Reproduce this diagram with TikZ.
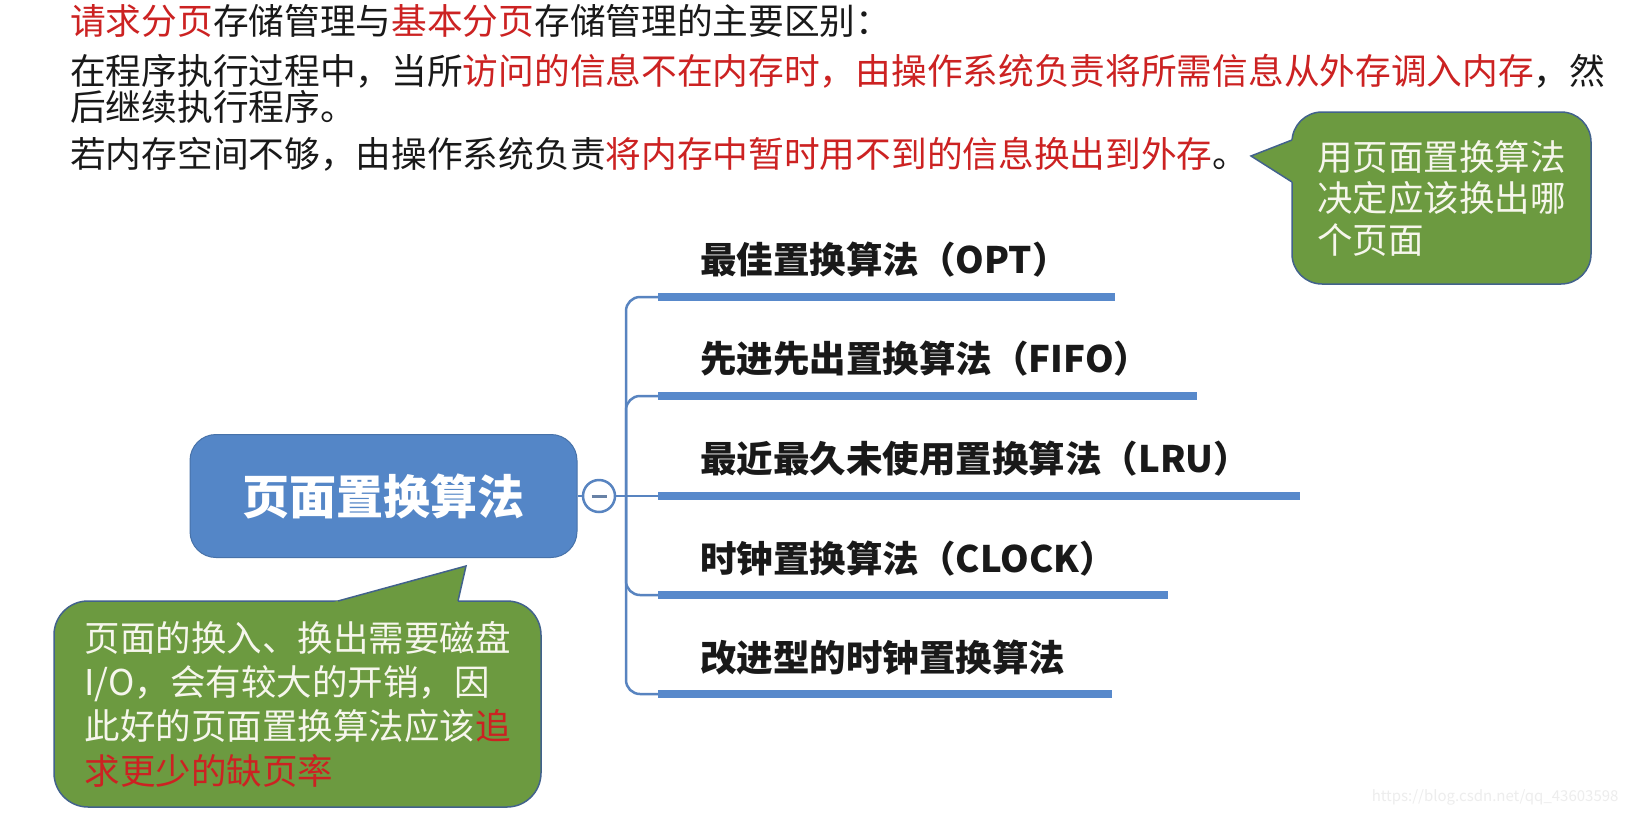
\documentclass[tikz,border=0pt]{standalone}
\usepackage{fontspec}
\setmainfont{Noto Sans CJK SC}
\definecolor{redtext}{RGB}{204,34,34}
\definecolor{nodeblue}{RGB}{84,134,199}
\definecolor{barblue}{RGB}{88,137,203}
\definecolor{twigblue}{RGB}{88,132,192}
\definecolor{bubblegreen}{RGB}{108,154,64}
\definecolor{bubbleline}{RGB}{66,98,140}
\definecolor{bubbletext}{RGB}{246,246,236}

\tikzset{
  body/.style={anchor=west, inner sep=0pt, text=black!90, font=\fontsize{35.7}{42}\selectfont},
  hint/.style={draw=bubbleline, fill=bubblegreen, line width=1.5pt, text=bubbletext, align=left},
  root/.style={fill=nodeblue, draw=nodeblue!85!black, line width=1pt, rounded corners=26pt, minimum width=387pt, minimum height=123pt, text=white, font=\fontsize{47}{56}\selectfont\bfseries},
  fold/.style={circle, draw=twigblue, fill=white, line width=2.5pt, minimum size=32pt, inner sep=0pt, text=twigblue!60!gray},
  leaf/.style={anchor=west, inner sep=0pt, text=black!90, font=\fontsize{36.5}{44}\selectfont\bfseries},
  twig/.style={draw=twigblue, line width=2.5pt, rounded corners=14pt},
  bar/.style={draw=barblue, line width=8pt}
}

\begin{document}
\begin{tikzpicture}[x=1pt,y=-1pt]
\fill[white] (0,0) rectangle (1630,814);
\useasboundingbox (0,0) rectangle (1630,814);

\node[body] (t1) at (70,21) {\textcolor{redtext}{请求分页}存储管理与\textcolor{redtext}{基本分页}存储管理的主要区别：};
\node[body] (t2) at (70,71) {在程序执行过程中，当所\textcolor{redtext}{访问的信息不在内存时，由操作系统负责将所需信息从外存调入内存}，然};
\node[body] (t3) at (70,107) {后继续执行程序。};
\node[body] (t4) at (70,154) {若内存空间不够，由操作系统负责\textcolor{redtext}{将内存中暂时用不到的信息换出到外存}。};

\node[hint, rounded corners=30pt, minimum width=299pt, minimum height=172pt, text width=249pt, font=\fontsize{35.5}{41.5}\selectfont] (hintR) at (1441.5,198) {用页面置换算法\\决定应该换出哪\\个页面};
\fill[bubblegreen] (1251,156) -- (1294,139) -- (1294,183) -- cycle;
\draw[bubbleline, line width=1.5pt] (1292,140) -- (1251,156) -- (1292,182);

\node[root] (root) at (383.5,496) {页面置换算法};
\node[fold] (fold) at (599,496) {\rule{15pt}{3pt}};
\coordinate (trunk) at (626,496);

\coordinate (b1) at (658,297);
\coordinate (e1) at (1115,297);
\coordinate (b2) at (658,396);
\coordinate (e2) at (1197,396);
\coordinate (b3) at (658,496);
\coordinate (e3) at (1300,496);
\coordinate (b4) at (658,595);
\coordinate (e4) at (1168,595);
\coordinate (b5) at (658,694);
\coordinate (e5) at (1112,694);

\draw[twig] (root) -- (fold);
\draw[twig] (fold) -- (b3);
\draw[twig] (trunk) |- (b1);
\draw[twig] (trunk) |- (b2);
\draw[twig] (trunk) |- (b4);
\draw[twig] (trunk) |- (b5);

\draw[bar] (b1) -- (e1);
\draw[bar] (b2) -- (e2);
\draw[bar] (b3) -- (e3);
\draw[bar] (b4) -- (e4);
\draw[bar] (b5) -- (e5);

\node[leaf] (opt) at (700,260) {最佳置换算法（OPT）};
\node[leaf] (fifo) at (700,359) {先进先出置换算法（FIFO）};
\node[leaf] (lru) at (700,459) {最近最久未使用置换算法（LRU）};
\node[leaf] (clock) at (700,559) {时钟置换算法（CLOCK）};
\node[leaf] (nclock) at (700,658) {改进型的时钟置换算法};

\node[hint, rounded corners=34pt, minimum width=487pt, minimum height=206pt, text width=426pt, font=\fontsize{35.5}{44.3}\selectfont] (hintL) at (297.5,704) {页面的换入、换出需要磁盘\\I/O，会有较大的开销，因\\此好的页面置换算法应该\textcolor{redtext}{追}\\\textcolor{redtext}{求更少的缺页率}};
\fill[bubblegreen] (330,603) -- (466,566) -- (457.5,603) -- cycle;
\draw[bubbleline, line width=1.5pt] (338,601) -- (466,566) -- (458,601);

\node[anchor=east, text=black!7, font=\fontsize{15}{18}\selectfont] (mark) at (1622,797) {https://blog.csdn.net/qq\_43603598};
\end{tikzpicture}
\end{document}
